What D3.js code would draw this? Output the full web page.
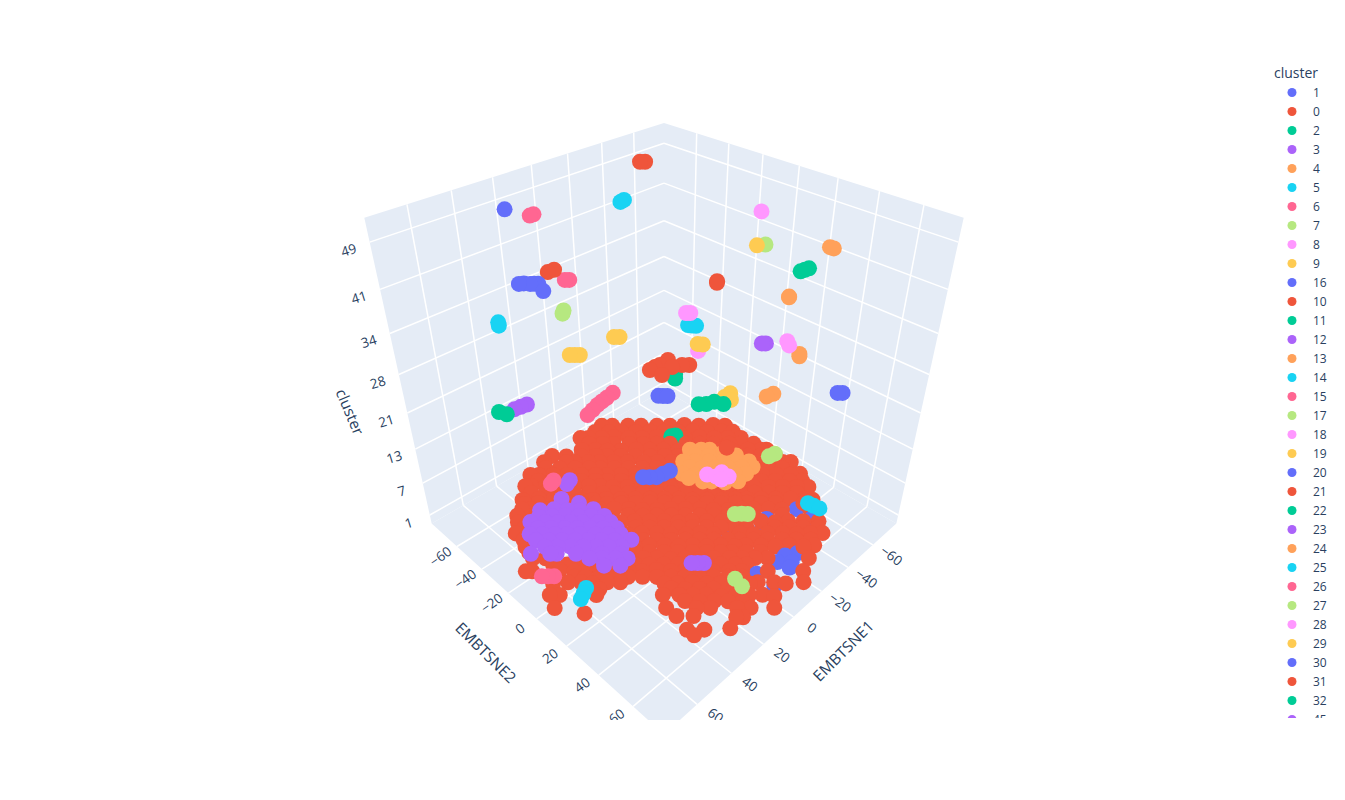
<!DOCTYPE html>
<html><head><meta charset="utf-8">
<script src="https://cdn.jsdelivr.net/npm/d3@7"></script>
<style>html,body{margin:0;background:#fff}svg{display:block}text{font-family:"Open Sans",Verdana,Arial,sans-serif;fill:#2a3f5f}</style>
</head><body><svg id="c" width="1345" height="800"></svg>
<script>
const colorway=["#636EFA","#EF553B","#00CC96","#AB63FA","#FFA15A","#19D3F3","#FF6692","#B6E880","#FF97FF","#FECB52"];
const legendOrder=[1,0,2,3,4,5,6,7,8,9,16,10,11,12,13,14,15,17,18,19,20,21,22,23,24,25,26,27,28,29,30,31,32,45];
const hiddenOrder=[33,34,35,36,37,38,39,40,41,42,43,44,46,47,48,49,50,51];
const categoryOrder=legendOrder.concat(hiddenOrder);
const underLayer=[0,1,2];
const xTicks=[-60,-40,-20,0,20,40,60];
const yTicks=[-60,-40,-20,0,20,40,60];
const zTicks=[1,7,13,21,28,34,41,49];
const xTitle="EMBTSNE1",yTitle="EMBTSNE2",zTitle="cluster",legendTitle="cluster";

// [EMBTSNE1, EMBTSNE2] read per cluster
const c0=[[-24,-73],[-28,-69],[-34,-63],[-39,-58],[-45,-52],[-50,-47],[-56,-42],[-61,-36],[-67,-31],[-71,-26],
[-9,-73],[-12,-70],[-17,-65],[-22,-61],[-27,-55],[-32,-50],[-38,-45],[-43,-39],[-48,-34],[-54,-29],[-59,-23],[-64,-18],[-69,-13],
[-3,-65],[-8,-60],[-12,-55],[-17,-50],[-23,-45],[-28,-40],[-33,-35],[-38,-29],[-44,-24],[-49,-19],[-54,-14],[-58,-9],[-64,-4],[-69,1],[-71,3],
[17,-71],[9,-63],[6,-60],[1,-55],[-3,-51],[-8,-46],[-13,-41],[-19,-35],[-24,-30],[-29,-25],[-34,-20],[-39,-15],[-44,-10],[-49,-4],[-54,0],[-59,5],[-64,10],[-69,15],[-72,18],
[28,-68],[25,-65],[20,-60],[15,-55],[10,-50],[5,-45],[1,-41],[-4,-36],[-9,-31],[-14,-26],[-19,-21],[-25,-16],[-30,-11],[-35,-6],[-40,-1],[-45,4],[-49,9],[-54,14],[-59,19],[-64,24],[-68,27],
[35,-63],[33,-61],[28,-56],[23,-51],[18,-46],[13,-41],[9,-37],[5,-32],[0,-27],[-5,-22],[-10,-17],[-15,-12],[-20,-7],[-25,-2],[-30,3],[-35,8],[-39,12],[-44,17],[-49,22],[-54,27],[-59,32],[-63,36],
[42,-56],[36,-51],[31,-46],[27,-41],[22,-36],[18,-32],[13,-28],[8,-23],[3,-18],[-2,-13],[-7,-8],[-12,-3],[-16,2],[-21,7],[-26,12],[-31,16],[-35,20],[-40,25],[-45,30],[-50,35],[-55,40],[-57,43],
[46,-51],[43,-48],[38,-43],[20,-25],[15,-20],[10,-15],[6,-10],[1,-5],[-4,-1],[-9,4],[-14,9],[-18,14],[-23,19],[-28,23],[-32,27],[-37,32],[-41,37],[-51,46],[-52,48],
[53,-45],[46,-39],[19,-11],[14,-7],[9,-2],[4,3],[0,8],[-5,12],[-10,17],[-15,22],[-19,27],[-23,30],[-28,35],[-32,40],[-37,44],[-42,49],[-47,54],
[58,-40],[53,-35],[22,-3],[17,1],[12,6],[8,11],[3,16],[-2,20],[-6,25],[-15,33],[-19,38],[-24,42],[-29,47],[-33,52],[-38,56],[-42,60],
[60,-30],[29,0],[25,5],[20,9],[15,14],[11,19],[6,23],[2,28],[-3,32],[-7,37],[-11,40],[-16,45],[-20,50],[-25,54],[-29,59],[-33,62],
[62,-22],[58,-18],[32,8],[27,13],[23,17],[19,22],[14,26],[10,31],[5,35],[0,40],[-4,44],[-8,48],[-12,52],[-25,65],
[69,-18],[67,-16],[58,-8],[54,-3],[50,0],[46,5],[42,9],[37,14],[33,18],[28,22],[24,27],[19,31],[15,36],[11,40],[6,45],[2,49],[-6,57],[-17,68],
[65,-4],[60,0],[56,4],[53,8],[48,12],[44,16],[31,30],[27,34],[22,38],[18,43],[14,47],[9,51],[5,56],[2,58],[-3,63],[-6,67],[-12,72],
[70,0],[67,3],[56,14],[36,34],[31,39],[27,43],[23,47],[19,52],[14,56],[10,60],[6,64],[3,68],
[73,7],[40,40],[31,49],[27,53],[19,61],[15,65],[8,72],[66,18],
[40,46],[35,51],[23,64],[21,66],[42,54],[37,59],[29,66],[42,58],
[-18,-71.5],[-23,-66],[-28,-62],[-33,-56],[-39,-51],[-44,-45.5],[-49.5,-40],[-55,-35],[-60,-29],[-66,-24],[-70,-19.5],
[-9,-66],[-14,-61],[-18,-57],[-24,-51],[-29,-46],[-34,-41],[-39,-36],[-45,-30],[-50,-25],[-55,-20],[-61,-14],[-65,-10],[-70,-5],
[0.5,-61],[-5,-56],[-9,-52],[-14,-47],[-19,-41.5],[-24.5,-36],[-30,-31],[-35,-26],[-40,-21],[-45,-15.5],[-50.5,-10],[-55,-6],[-60,-1],[-65,4],[-70,9.5],[11,-72],[6,-66.5],
[19.6,-66.6],[14.5,-61.5],[9,-56],[4,-51],[0,-47],[-5,-42],[-10,-37],[-15,-32],[-20,-27],[-25,-22],[-30.5,-16.5],[-35.6,-11.4],[-40.7,-6.3],[-45.8,-1.2],[-50,3],[-55,8],[-60,13],[-65,18],
[28,-61.6],[23,-56.6],[18,-51.6],[13,-46.5],[8,-41.5],[4,-37.5],[-1,-32.5],[-6,-27.5],[-11,-22.5],[-16,-17.5],[-21,-12.5],[-26,-7.5],[-31,-2.5],[-36,2.5],[-41,7.5],[-45,11.5],[-50,16.6],[-55,21.6],[-60,26.6],[-64.5,31],
[36,-57],[31,-52],[26,-47],[21,-42],[16,-37],[11.5,-32],[7.5,-28],[2.6,-23.4],[-2.3,-18.5],[-7,-13.6],[-12,-8.6],[-17,-3.7],[-22,1.2],[-27,6],[-32,11],[-36,15],[-41,20],[-46,25],[-50.6,29.8],[-55.5,34.7],
[43,-53],[38,-49],[33,-44],[28,-39],[23.5,-34],[18.6,-29],[15,-25],[10,-20.5],[5,-15.7],[0,-11],[-5,-6],[-9.4,-1],[-14,4],[-19,8.5],[-24,13.4],[-29,18],[-33,22],[-37.5,27],[-42.4,31.8],[-52,41.4],
[50.4,-49],[13.3,-12],[8.5,-7],[3.8,-2.4],[-1,2.4],[-5.7,7],[-10.5,12],[-15.3,16.7],[-20,21.4],[-24.8,26.2],[-28.5,30],[-38,39.5],
[53,-40],[16.5,-3.7],[11.8,1],[7,5.7],[2.4,10.4],[-2.3,15],[-7,19.7],[-11.6,24.4],[-16.3,29],[-20,32.8],[-29.4,42.2],[-34,46.8],[-38.7,51.5],[-43.4,56.2],
[58,-34],[19.6,4.4],[15,9],[10.4,13.6],[5.8,18.2],[1.2,22.8],[-3.4,27.4],[-8,32],[-11.6,35.6],[-16.2,40.2],[-20.8,44.8],[-25.5,49.5],[-30,54],[-34.7,58.7],
[61,-26],[27,7.6],[22.6,12.2],[18,16.7],[13.6,21.2],[9,25.8],[4.5,30.3],[0,34.8],[-3.5,38.3],[-8,42.9],[-12.6,47.4],
[58,-12.7],[53.6,-8.2],[50,-4.8],[45.7,-0.3],[41,4.2],[37,8.6],[32.3,13],[28,17.5],[23.4,22],[19,26.5],[14.5,31],[10,35.4],[5.6,39.8],[1.1,44.3],[-2.4,47.8],
[56,-0.5],[52.7,3],[48.3,7.3],[44,11.7],[39.5,16],[35,20.5],[30.7,25],[26.3,29.3],[22,33.7],[17.5,38],[13.1,42.5],[8.7,46.9],[4.3,51.3],
[56,9],[53,12.5],[31,34],[27,38.5],[22.6,42.8],[18.3,47],[14,51.5],[9.6,55.8],
[31.8,43],[27.5,47.5],[23,51.7],[19,56],[14.8,60.2]];
const c1=[[-49,40],[-49,49],[-33.5,34],[-28,36],[-14,27],[-21,55],[-26,58],[-15.5,55],[-20,59.6],[-3.5,53],[-3.5,63],[-16.7,61]];
const c2=[[-43.4,-36.4],[-41.4,-37.4]];
const c3=[[32,-38],[28,-30],[44,-39],[39,-35],[35,-30],[31,-26],[26,-22],[52,-36],[47,-31],[43,-27],[39,-23],[35,-19],[30,-14],[26,-10],[57,-30],[53,-26],[49,-22],[45,-18],[41,-14],[36,-9],[32,-5],[28,-1],[27,5],[57,-19],[53,-15],[49,-11],[45,-7],[41,-3],[37,1],[33,5],[64,-20],[58,-14],[56,-12],[50,-6],[42,2],[36,8],[46,8],[41,13],[20.6,-45.6],[23.4,-44.4],
[47,-36],[42.5,-32],[38,-28],[34,-23.5],[29.7,-19.3],[25.4,-15],[52,-30.4],[47.8,-26.2],[43.5,-22],[39.4,-17.8],[35,-13.6],[31,-9.3],[26.7,-5],[57.4,-25],[53.3,-21],[49,-16.7],[45,-12.5],[40.8,-8.4],[36.7,-4.3],[32.5,-0.1],[47.7,0.3],[43.7,4.3],[39.6,8.4],[35.9,12.1]];
const c4=[[-35,-18],[-39,-14],[-42,-11],[-43.5,-4.7],[-26,-14],[-30,-10],[-35,-5],[-40,0],[-44,4],[-49,9],[-47,13],[-19,-8],[-23,-3],[-28,1],[-33,6],[-37,10],[-41,14],[-22,3],[-25,6],[-29,11],[-34,15],[-33.5,-13],[-38,-8],[-43,-3],[-48,1.4],[-25,-8.7],[-29,-4],[-34,0.4],[-38,5],[-43,9.5],[-19,-3.5],[-24,1],[-28,5.4],[-33,10]];
const c5=[[62.8,16.2],[65.5,17.7],[68.2,19.2]];
const c6=[[73.2,0.6],[71.4,2.4],[69.6,4.2]];
const c7=[[20,59.6],[21,64.2]];
const c8=[[-17,9.9],[-19,13.9],[-23,13.6],[-23,17.9],[-19,16.9]];
const c9=[[-65.9,-23],[-70.5,-23.2],[-66.3,-19]];
const c10=[[-30,10]];
const c11=[[-53.4,-46.8],[-50.8,-44.2]];
const c12=[[38.3,52.1],[36.6,53.8],[34.9,55.5]];
const c13=[[-65.3,4.3],[-69.3,5.2]];
const c14=[[-15.4,66.8],[-15.8,69.4],[-16.2,72]];
const c15=[[51.4,-15.4],[53.4,-14.6]];
const c16=[[9.8,-5],[7.7,-2.9],[5.5,-0.7],[1.8,-0.2],[-1.9,0.5]];
const c17=[[15.4,53.6],[13.4,55.4],[11.8,57.2]];
const c18=[[-58.4,-35.6]];
const c19=[[-59.7,-37.2],[-61.1,-35]];
const c20=[[-11.2,-16.2],[-12.6,-14.7],[-14,-13.2]];
const c21=[[-26.5,-30.7],[-29.3,-25.4],[-33.9,-23.3],[-36.3,-20.9],[-23.6,-31.1],[-21.2,-24],[-20.2,-31],[-32.3,-31.1]];
const c22=[[-13.5,6.5],[-15.9,8.8],[-19.6,10.1],[-21.2,14.1]];
const c23=[[47.6,-44],[44.7,-43.5],[41.8,-43]];
const c24=[[-69.4,17.8],[-67.8,19]];
const c25=[[-48.3,-33.4],[-49.4,-31.8],[-50.5,-30.2]];
const c26=[[35.6,-9.6],[31.8,-10.8],[28.1,-12],[25.2,-12.6],[22.1,-13.1],[17.9,-14]];
const c27=[[6.9,61.2],[4.1,61.8]];
const c28=[[-58.8,17.8],[-56.6,20.6]];
const c29=[[-3.3,-36.2],[-5.1,-34.5]];
const c30=[[-34.4,61.7],[-35.8,63.1]];
const c31=[[-65.4,-31],[-66.6,-32]];
const c32=[[72.2,-16.2],[71,-13]];
const c33=[[-65.4,11.7],[-66,11.3]];
const c34=[[41.5,-57.6],[42.9,-55.2]];
const c35=[[1.2,-62.8],[-0.2,-61.4]];
const c36=[[24.1,-36.1],[22.1,-37.9]];
const c37=[[-8.4,2.8],[-9.6,4]];
const c38=[[47.6,-2.6],[46.3,-1.3],[45,0]];
const c39=[[30.4,-55.8],[28.7,-54.7],[27.1,-52.5],[25.9,-51.4],[24.7,-50.2],[27.1,-43.8]];
const c40=[[18.7,-51.1],[15.5,-50.9]];
const c41=[[-51.4,26.2],[-53.7,26.6],[-56,27]];
const c43=[[-68,28],[-68.2,29.8]];
const c44=[[-34.3,-63.7],[-37,-64.3]];
const c45=[[-30.7,25.1],[-31.9,26.3]];
const c46=[[8,-75],[6,-75]];
const c47=[[-36.4,18.7]];
const c48=[[-55,1]];
const c49=[[-23.8,24.4]];
const c50=[[27,-65]];
const c51=[[-43.2,-59.8],[-44.8,-58.2]];
const byCluster={0:c0,1:c1,2:c2,3:c3,4:c4,5:c5,6:c6,7:c7,8:c8,9:c9,10:c10,11:c11,12:c12,13:c13,14:c14,15:c15,16:c16,17:c17,18:c18,19:c19,20:c20,21:c21,22:c22,23:c23,24:c24,25:c25,26:c26,27:c27,28:c28,29:c29,30:c30,31:c31,32:c32,33:c33,34:c34,35:c35,36:c36,37:c37,38:c38,39:c39,40:c40,41:c41,43:c43,44:c44,45:c45,46:c46,47:c47,48:c48,49:c49,50:c50,51:c51};

// scales: data to a unit cube; the cluster axis is categorical, so it runs on category order
const sx=d3.scaleLinear().domain([-80,78]).range([-1,1]);
const sy=d3.scaleLinear().domain([-81.6,76.8]).range([-1,1]);
const sz=d3.scaleLinear().domain([-1.93,52.42]).range([-1,1]);
const zi=c=>categoryOrder.indexOf(c);
const [xMin,xMax]=sx.domain(),[yMin,yMax]=sy.domain(),[zMin,zMax]=sz.domain();
// perspective camera on the cube diagonal
const cam={cx:664,cy:390,fx:844,fy:840,dist:4.56};
function project(x,y,z){
  const a=sx(x),b=sy(y),c=sz(z);
  const r=(b-a)/Math.SQRT2,u=(2*c-a-b)/Math.sqrt(6),n=(a+b+c)/Math.sqrt(3),d=cam.dist-n;
  return {X:cam.cx+cam.fx*r/d,Y:cam.cy-cam.fy*u/d,n};
}
const svg=d3.select("#c");
const defs=svg.append("defs");
defs.append("clipPath").attr("id","scene").append("rect").attr("x",80).attr("y",60).attr("width",1166).attr("height",660);
defs.append("clipPath").attr("id","leg").append("rect").attr("x",1260).attr("y",60).attr("width",85).attr("height",658);
const scene=svg.append("g").attr("clip-path","url(#scene)");

const poly=pts=>pts.map(p=>{const q=project(...p);return q.X+","+q.Y}).join(" ");
const walls=[
 [[xMin,yMin,zMin],[xMax,yMin,zMin],[xMax,yMin,zMax],[xMin,yMin,zMax]],
 [[xMin,yMin,zMin],[xMin,yMax,zMin],[xMin,yMax,zMax],[xMin,yMin,zMax]],
 [[xMin,yMin,zMin],[xMax,yMin,zMin],[xMax,yMax,zMin],[xMin,yMax,zMin]]];
scene.selectAll("polygon").data(walls).join("polygon").attr("points",poly).attr("fill","#E5ECF6");

const segs=[];
xTicks.forEach(t=>{segs.push([[t,yMin,zMin],[t,yMax,zMin]],[[t,yMin,zMin],[t,yMin,zMax]])});
yTicks.forEach(t=>{segs.push([[xMin,t,zMin],[xMax,t,zMin]],[[xMin,t,zMin],[xMin,t,zMax]])});
zTicks.forEach(t=>{const k=zi(t);segs.push([[xMax,yMin,k],[xMin,yMin,k]],[[xMin,yMin,k],[xMin,yMax,k]])});
scene.selectAll("line.g").data(segs).join("line").attr("class","g")
 .attr("x1",d=>project(...d[0]).X).attr("y1",d=>project(...d[0]).Y)
 .attr("x2",d=>project(...d[1]).X).attr("y2",d=>project(...d[1]).Y)
 .attr("stroke","#fff").attr("stroke-width",1.5);

// points: the floor clusters first, far to near, then every other cluster far to near
const colorOf=id=>colorway[zi(id)%10];
const points=[];
Object.keys(byCluster).forEach(k=>{const id=+k;byCluster[k].forEach(p=>{const q=project(p[0],p[1],zi(id));points.push({X:q.X,Y:q.Y,n:q.n,c:colorOf(id),under:underLayer.includes(id)})})});
points.sort((a,b)=>d3.descending(a.under,b.under)||d3.ascending(a.n,b.n));
scene.selectAll("circle").data(points).join("circle").attr("cx",d=>d.X).attr("cy",d=>d.Y).attr("r",8).attr("fill",d=>d.c);

// tick labels
const fmt=v=>String(v).replace("-","\u2212");
const lab=(g,t,x,y,rot,size)=>g.append("text").attr("transform",`translate(${x},${y}) rotate(${rot})`).attr("text-anchor","middle").attr("dy","0.35em").attr("font-size",size).text(t);
xTicks.forEach(t=>{const p=project(t,yMax,zMin);lab(scene,fmt(t),p.X+18.5,p.Y+11,36,13.5)});
yTicks.forEach(t=>{const p=project(xMax,t,zMin);lab(scene,fmt(t),p.X-16.5,p.Y+10,-36,13.5)});
zTicks.forEach(t=>{const p=project(xMax,yMin,zi(t));lab(scene,fmt(t),p.X-21,p.Y+8,-17,13.5)});
const tx=project(0,yMax,zMin),ty=project(xMax,0,zMin),tz=project(xMax,yMin,24);
lab(scene,xTitle,tx.X+50,tx.Y+34,-45,15.4);
lab(scene,yTitle,ty.X-51,ty.Y+34,45,15.4);
lab(scene,zTitle,tz.X-54,tz.Y+15,67,15.4);

// legend
const leg=svg.append("g").attr("clip-path","url(#leg)");
leg.append("text").attr("x",1274).attr("y",78).attr("font-size",14).text(legendTitle);
const ly=d3.scalePoint().domain(legendOrder).range([92.5,719.5]);
const rows=leg.selectAll("g.r").data(legendOrder).join("g").attr("class","r").attr("transform",d=>`translate(0,${ly(d)})`);
rows.append("circle").attr("cx",1292).attr("r",4.5).attr("fill",colorOf);
rows.append("text").attr("x",1313).attr("y",4).attr("font-size",12).text(d=>d);
</script></body></html>
